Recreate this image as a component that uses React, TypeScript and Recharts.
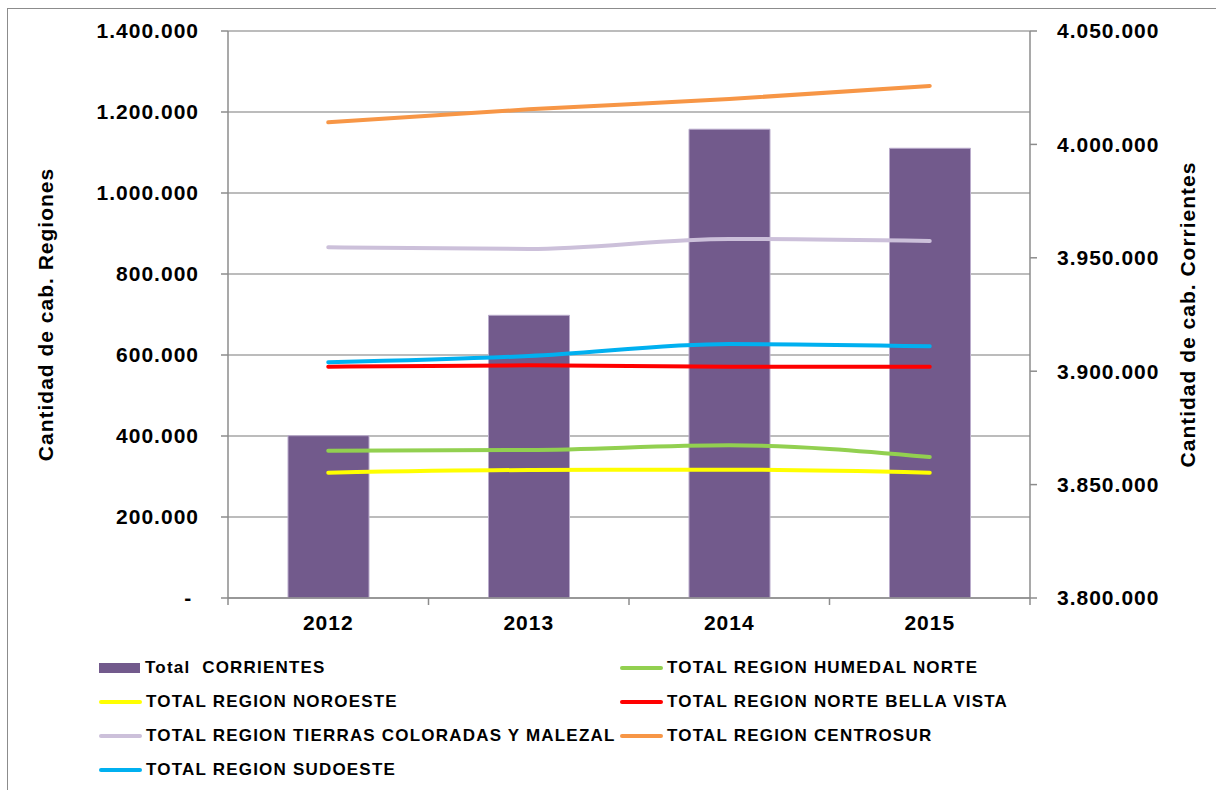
import React from "react";
import { ComposedChart, Bar, Line, XAxis, YAxis, CartesianGrid } from "recharts";

const years = ["2012", "2013", "2014", "2015"];
const totalCorrientes = [3871560, 3924650, 4006700, 3998300];
const humedalNorte = [363700, 365400, 377000, 348000];
const noroeste = [309400, 316000, 316800, 309400];
const norteBellaVista = [571000, 574600, 571000, 571000];
const tierrasColoradas = [865900, 861700, 886400, 881500];
const centroSur = [1174600, 1206700, 1232100, 1264200];
const sudoeste = [582000, 597500, 627000, 621500];

const leftTicks = [0, 200000, 400000, 600000, 800000, 1000000, 1200000, 1400000];
const rightTicks = [3800000, 3850000, 3900000, 3950000, 4000000, 4050000];

const lineSeries = [
  { key: "humedal", name: "TOTAL REGION HUMEDAL NORTE", color: "#92D050", values: humedalNorte },
  { key: "noroeste", name: "TOTAL REGION NOROESTE", color: "#FFFF00", values: noroeste },
  { key: "bella", name: "TOTAL REGION NORTE BELLA VISTA", color: "#FF0000", values: norteBellaVista },
  { key: "tierras", name: "TOTAL REGION TIERRAS COLORADAS Y MALEZAL", color: "#CCC0DA", values: tierrasColoradas },
  { key: "centro", name: "TOTAL REGION CENTROSUR", color: "#F79646", values: centroSur },
  { key: "sudoeste", name: "TOTAL REGION SUDOESTE", color: "#00B0F0", values: sudoeste },
];
const barName = "Total  CORRIENTES";
const barColor = "#725A8C";

const legendOrder = [
  { name: barName, color: barColor, bar: true },
  { name: lineSeries[0].name, color: lineSeries[0].color },
  { name: lineSeries[1].name, color: lineSeries[1].color },
  { name: lineSeries[2].name, color: lineSeries[2].color },
  { name: lineSeries[3].name, color: lineSeries[3].color },
  { name: lineSeries[4].name, color: lineSeries[4].color },
  { name: lineSeries[5].name, color: lineSeries[5].color },
];

const data = years.map((y, i) => {
  const row: any = { year: y, total: totalCorrientes[i] };
  lineSeries.forEach((s) => (row[s.key] = s.values[i]));
  return row;
});

const FONT = "'Liberation Sans', Arial, sans-serif";

const fmt = (v: number) =>
  v === 0 ? "-\u00A0" : Math.round(v).toString().replace(/\B(?=(\d{3})+(?!\d))/g, ".");

const XTick = (props: any) => {
  const { x, y, payload, index, width, visibleTicksCount } = props;
  const band = (width || 802) / (visibleTicksCount || 4);
  const top = y - 17;
  return (
    <g>
      <line x1={x - band / 2} x2={x - band / 2} y1={top} y2={top + 7} stroke="#8C8C8C" strokeWidth={1.5} />
      {index === (visibleTicksCount || 4) - 1 && (
        <line x1={x + band / 2} x2={x + band / 2} y1={top} y2={top + 7} stroke="#8C8C8C" strokeWidth={1.5} />
      )}
      <text x={x} y={y} dy="0.71em" textAnchor="middle" fill="#000" fontFamily={FONT} fontWeight="bold" fontSize={21} letterSpacing={1}>
        {payload.value}
      </text>
    </g>
  );
};

const AxisTitle = (side: "left" | "right", text: string) => (props: any) => {
  const vb = props.viewBox || {};
  const cx = side === "left" ? vb.x + 45 : vb.x + 157;
  const cy = vb.y + vb.height / 2;
  return (
    <text
      x={cx}
      y={cy}
      transform={`rotate(-90, ${cx}, ${cy})`}
      textAnchor="middle"
      dominantBaseline="central"
      fontFamily={FONT}
      fontWeight="bold"
      fontSize={21}
      letterSpacing={1}
      fill="#000"
    >
      {text}
    </text>
  );
};

const tickStyle = { fill: "#000", fontFamily: FONT, fontWeight: "bold", fontSize: 21, letterSpacing: 1 } as any;

export default function App() {
  return (
    <div style={{ position: "absolute", left: 0, top: 0, width: 1216, height: 790, background: "#fff", overflow: "hidden" }}>
      <div
        style={{
          position: "absolute",
          left: 7,
          top: 8,
          width: 1240,
          height: 820,
          border: "1.5px solid #8C8C8C",
          boxSizing: "border-box",
        }}
      />
      <div style={{ position: "absolute", left: 0, top: 0 }}>
        <ComposedChart
          width={1216}
          height={790}
          data={data}
          margin={{ top: 31, right: 0, bottom: 152, left: 0 }}
          barSize={81}
        >
          <CartesianGrid yAxisId="left" vertical={false} stroke="#A6A6A6" strokeWidth={1.5} />
          <XAxis
            dataKey="year"
            height={40}
            axisLine={{ stroke: "#8C8C8C", strokeWidth: 1.5 }}
            tickLine={false}
            tickSize={0}
            tickMargin={17}
            tick={<XTick />}
            interval={0}
          />
          <YAxis
            yAxisId="left"
            orientation="left"
            width={228}
            domain={[0, 1400000]}
            ticks={leftTicks}
            tickFormatter={fmt}
            axisLine={{ stroke: "#8C8C8C", strokeWidth: 1.5 }}
            tickLine={{ stroke: "#8C8C8C", strokeWidth: 1.5 }}
            tickSize={7}
            tickMargin={22}
            tick={tickStyle}
            interval={0}
            label={AxisTitle("left", "Cantidad de cab. Regiones")}
          />
          <YAxis
            yAxisId="right"
            orientation="right"
            width={186}
            domain={[3800000, 4050000]}
            ticks={rightTicks}
            tickFormatter={fmt}
            axisLine={{ stroke: "#8C8C8C", strokeWidth: 1.5 }}
            tickLine={{ stroke: "#8C8C8C", strokeWidth: 1.5 }}
            tickSize={7}
            tickMargin={20}
            tick={tickStyle}
            interval={0}
            label={AxisTitle("right", "Cantidad de cab. Corrientes")}
          />
          <Bar yAxisId="right" dataKey="total" name={barName} fill={barColor} stroke="#B9ABCB" strokeWidth={1} isAnimationActive={false} />
          {lineSeries.map((s) => (
            <Line
              key={s.key}
              yAxisId="left"
              type="monotone"
              dataKey={s.key}
              name={s.name}
              stroke={s.color}
              strokeWidth={4}
              strokeLinecap="round"
              dot={false}
              activeDot={false}
              isAnimationActive={false}
            />
          ))}
        </ComposedChart>
      </div>
      <div style={{ position: "absolute", left: 99, top: 651, width: 1000, fontFamily: FONT, fontWeight: "bold", fontSize: 17, letterSpacing: 1.2, color: "#000" }}>
        {legendOrder.map((item, i) => {
          const col = i % 2;
          const row = Math.floor(i / 2);
          return (
            <div
              key={item.name}
              style={{
                position: "absolute",
                left: col === 0 ? 0 : 521,
                top: row * 34,
                height: 34,
                display: "flex",
                alignItems: "center",
                whiteSpace: "pre",
              }}
            >
              {item.bar ? (
                <div style={{ width: 41, height: 10, background: item.color, marginRight: 5 }} />
              ) : (
                <div style={{ width: 43, height: 4, borderRadius: 2, background: item.color, marginRight: 4 }} />
              )}
              <span>{item.name}</span>
            </div>
          );
        })}
      </div>
    </div>
  );
}
